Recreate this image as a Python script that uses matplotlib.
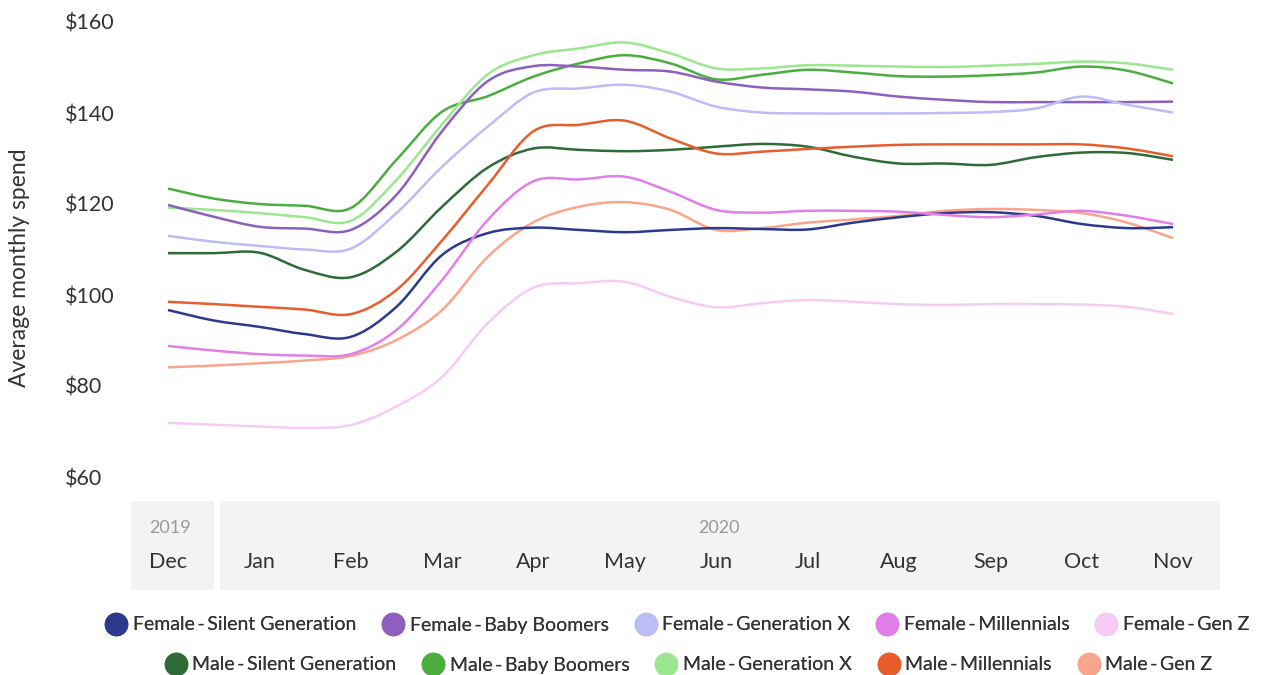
import numpy as np
import matplotlib.pyplot as plt
from matplotlib.lines import Line2D
from matplotlib.path import Path
from matplotlib.patches import PathPatch

plt.rcParams['font.family'] = ['Lato', 'DejaVu Sans']

# month labels on the axis, values read twice a month (Dec 2019 -> Nov 2020)
months = ['Dec', 'Jan', 'Feb', 'Mar', 'Apr', 'May', 'Jun', 'Jul', 'Aug', 'Sep', 'Oct', 'Nov']
years = ['2019', '2020']

f_silent = [96.7, 94.4, 93.0, 91.4, 90.8, 97.4, 108.8, 113.6, 114.8, 114.3, 113.8, 114.3,
            114.7, 114.5, 114.4, 115.9, 117.1, 118.0, 118.2, 117.4, 115.6, 114.7, 114.9]
f_boomers = [119.8, 117.2, 115.0, 114.6, 114.3, 122.0, 136.0, 147.0, 150.3, 150.2, 149.5, 149.1,
             146.9, 145.6, 145.2, 144.7, 143.6, 142.9, 142.4, 142.4, 142.4, 142.4, 142.5]
f_genx = [113.0, 111.7, 110.8, 110.0, 110.2, 118.0, 128.2, 137.0, 144.5, 145.4, 146.2, 144.7,
          141.4, 140.1, 139.9, 139.9, 139.9, 140.0, 140.2, 141.0, 143.6, 141.8, 140.1]
f_millennials = [88.8, 87.8, 87.0, 86.7, 87.0, 92.3, 103.3, 116.5, 125.0, 125.4, 126.0, 122.7,
                 118.7, 118.1, 118.5, 118.5, 118.3, 117.6, 117.1, 117.7, 118.5, 117.4, 115.6]
f_genz = [71.9, 71.5, 71.1, 70.8, 71.4, 75.5, 82.0, 93.8, 101.6, 102.6, 102.9, 99.6,
          97.3, 98.2, 98.9, 98.5, 98.0, 97.8, 98.0, 98.0, 97.9, 97.4, 95.8]
m_silent = [109.2, 109.2, 109.3, 105.5, 103.9, 109.5, 119.4, 128.0, 132.2, 131.9, 131.6, 131.9,
            132.6, 133.2, 132.6, 130.4, 128.9, 128.9, 128.6, 130.3, 131.3, 131.2, 129.7]
m_boomers = [123.4, 121.2, 120.0, 119.6, 119.1, 129.7, 140.3, 143.7, 148.0, 150.9, 152.7, 150.9,
             147.4, 148.4, 149.5, 148.9, 148.1, 148.0, 148.3, 148.9, 150.2, 149.3, 146.5]
m_genx = [119.2, 118.7, 118.0, 117.1, 116.3, 125.3, 137.5, 148.5, 152.7, 154.2, 155.5, 153.1,
          149.8, 149.8, 150.5, 150.4, 150.2, 150.1, 150.4, 150.8, 151.3, 150.9, 149.5]
m_millennials = [98.5, 98.0, 97.4, 96.8, 95.8, 101.1, 112.0, 124.2, 136.0, 137.4, 138.3, 134.4,
                 131.1, 131.5, 132.1, 132.6, 133.0, 133.1, 133.1, 133.1, 133.1, 132.2, 130.5]
m_genz = [84.1, 84.5, 85.0, 85.6, 86.6, 90.1, 96.7, 108.4, 116.0, 119.4, 120.4, 118.7,
          114.3, 114.7, 115.9, 116.6, 117.4, 118.5, 118.9, 118.7, 118.0, 115.9, 112.5]

sep = '\u2009-\u2009'
female_names = ['Female' + sep + g for g in ['Silent Generation', 'Baby Boomers', 'Generation X',
                                            'Millennials', 'Gen Z']]
male_names = ['Male' + sep + g for g in ['Silent Generation', 'Baby Boomers', 'Generation X',
                                        'Millennials', 'Gen Z']]
female_series = [f_silent, f_boomers, f_genx, f_millennials, f_genz]
male_series = [m_silent, m_boomers, m_genx, m_millennials, m_genz]
female_colors = ['#2b3a8f', '#8e5fbf', '#bcbcf7', '#e07fe8', '#f6cbf6']
male_colors = ['#2f6b37', '#4aae3f', '#9be78f', '#e85d2c', '#f9a58d']


def smooth_path(x, y):
    # cubic bezier through the points (catmull-rom tangents)
    p = np.column_stack([x, y])
    ext = np.vstack([p[0], p, p[-1]])
    verts = [p[0]]
    codes = [Path.MOVETO]
    for i in range(len(p) - 1):
        a, b, c, d = ext[i], ext[i + 1], ext[i + 2], ext[i + 3]
        verts += [b + (c - a) / 6, c - (d - b) / 6, c]
        codes += [Path.CURVE4] * 3
    return Path(verts, codes)


W, H = 1265, 675
fig = plt.figure(figsize=(W / 100, H / 100), dpi=100)

x_left, x_right = 131, 1220
ax = fig.add_axes([x_left / W, 1 - 477 / H, (x_right - x_left) / W, 455 / H])
band = fig.add_axes([x_left / W, 1 - 590 / H, (x_right - x_left) / W, 89 / H])

xlim = (-0.405, 11.514)
t = np.arange(len(f_silent)) / 2

for ys, c in zip(male_series + female_series, male_colors + female_colors):
    ax.add_patch(PathPatch(smooth_path(t, ys), fill=False, edgecolor=c, lw=1.8,
                           capstyle='butt'))

ax.set_xlim(*xlim)
ax.set_ylim(60, 160)
ax.set_yticks([60, 80, 100, 120, 140, 160])
ax.set_yticklabels(['$60', '$80', '$100', '$120', '$140', '$160'], ha='left')
ax.tick_params(axis='y', length=0, pad=47.5, labelsize=15.5, labelcolor='#333333')
ax.set_xticks([])
for s in ax.spines.values():
    s.set_visible(False)

fig.text(20 / W, 1 - 268 / H, 'Average monthly spend', rotation=90, ha='center', va='center',
         fontsize=16.5, color='#333333')

# x-axis band with years and months
band.set_xlim(*xlim)
band.set_ylim(0, 1)
band.axis('off')
band.axvspan(xlim[0], 0.503, color='#f3f3f3', lw=0)
band.axvspan(0.569, xlim[1], color='#f3f3f3', lw=0)
for i, m in enumerate(months):
    band.text(i, 0.31, m, ha='center', va='center', fontsize=15.5, color='#333333')
band.text(0.02, 0.70, years[0], ha='center', va='center', fontsize=13, color='#999999')
band.text(6.03, 0.70, years[1], ha='center', va='center', fontsize=13, color='#999999')


def handles(names, colors):
    return [Line2D([], [], ls='none', marker='o', markersize=16, markerfacecolor=c,
                   markeredgecolor=c, label=n) for n, c in zip(names, colors)]


for names, colors, yc, xc in [(female_names, female_colors, 625, 677),
                               (male_names, male_colors, 665, 688)]:
    leg = fig.legend(handles=handles(names, colors), loc='center', ncol=5,
                     bbox_to_anchor=(xc / W, 1 - yc / H), frameon=False, fontsize=14,
                     handletextpad=0.25, columnspacing=1.3, handlelength=1.2,
                     borderaxespad=0, borderpad=0)
    for txt in leg.get_texts():
        txt.set_color('#333333')
    fig.add_artist(leg)

fig.savefig('out.png', dpi=100)
